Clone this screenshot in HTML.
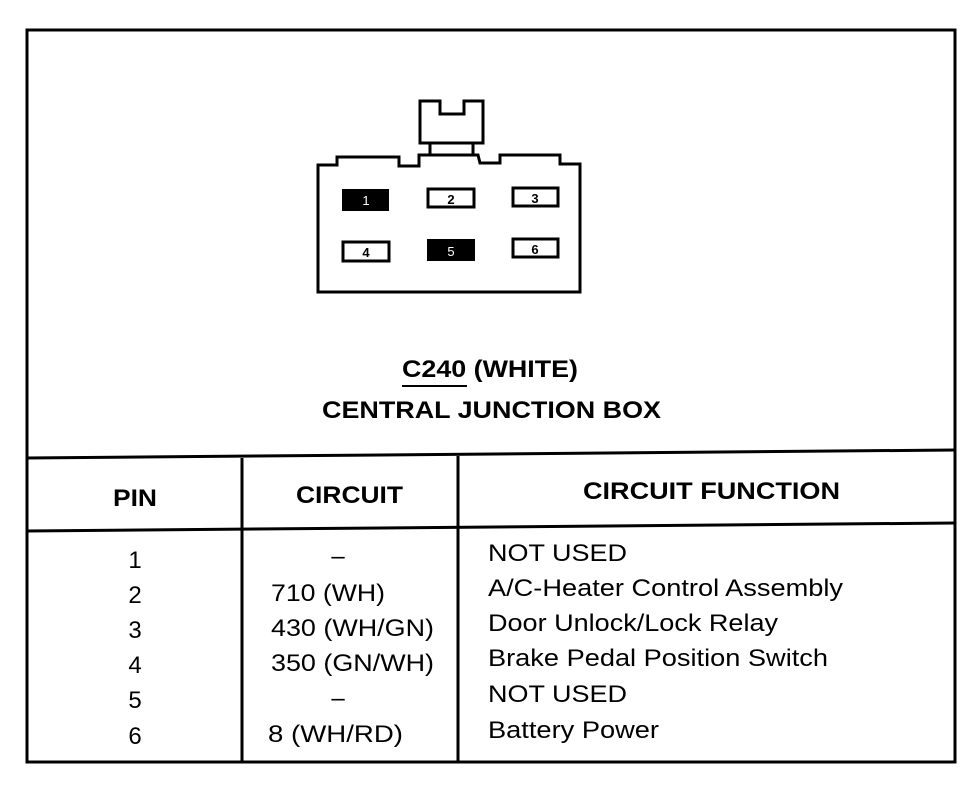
<!DOCTYPE html>
<html><head><style>
body{margin:0;background:#fff;width:976px;height:800px;overflow:hidden}
svg{display:block}
text{font-family:"Liberation Sans",Arial,sans-serif;fill:#000}
</style></head><body>
<svg width="976" height="800" viewBox="0 0 976 800">
<g fill="none" stroke="#000" stroke-width="3">
<rect x="27" y="30" width="928" height="732"/>
<line x1="27" y1="458" x2="955" y2="450"/>
<line x1="27" y1="531" x2="955" y2="523"/>
<line x1="242" y1="458" x2="242" y2="762"/>
<line x1="458" y1="456" x2="458" y2="762"/>
<path d="M318,165 L337,165 L337,157 L399,157 L399,166 L419,166 L419,155 L478,155 L480,163 L500,163 L500,155 L560,155 L560,164 L580,164 L580,292 L318,292 Z"/>
<path d="M420,143 L420,101 L440,101 L440,114 L464,114 L464,101 L483,101 L483,143 Z"/>
<line x1="430" y1="143" x2="430" y2="155"/>
<line x1="473" y1="143" x2="473" y2="155"/>
<rect x="428" y="189" width="46" height="18"/>
<rect x="513" y="188" width="45" height="18"/>
<rect x="343" y="242" width="46" height="19"/>
<rect x="513" y="239" width="45" height="18"/>
</g>
<rect x="342" y="189" width="47" height="22" fill="#000"/>
<rect x="427" y="239" width="48" height="22" fill="#000"/>
<g font-size="13" text-anchor="middle" font-weight="bold">
<text x="366" y="205" style="fill:#fff" font-weight="normal">1</text>
<text x="451" y="204">2</text>
<text x="535" y="203">3</text>
<text x="366" y="257">4</text>
<text x="451" y="256" style="fill:#fff" font-weight="normal">5</text>
<text x="535" y="254">6</text>
</g>
<g font-weight="bold" font-size="24" lengthAdjust="spacingAndGlyphs">
<text x="402" y="377" textLength="176" lengthAdjust="spacingAndGlyphs">C240 (WHITE)</text>
<text x="322" y="418" textLength="339" lengthAdjust="spacingAndGlyphs">CENTRAL JUNCTION BOX</text>
<text x="113" y="506" textLength="44" lengthAdjust="spacingAndGlyphs">PIN</text>
<text x="296" y="503" textLength="107" lengthAdjust="spacingAndGlyphs">CIRCUIT</text>
<text x="583" y="499" textLength="257" lengthAdjust="spacingAndGlyphs">CIRCUIT FUNCTION</text>
</g>
<line x1="402" y1="386" x2="467" y2="386" stroke="#000" stroke-width="2"/>
<g font-size="24" text-anchor="middle">
<text x="135" y="568">1</text><text x="135" y="603">2</text><text x="135" y="638">3</text>
<text x="135" y="673">4</text><text x="135" y="708">5</text><text x="135" y="744">6</text>
<text x="338" y="564">–</text>
<text x="338" y="706">–</text>
</g>
<g font-size="24">
<text x="271" y="601" textLength="114" lengthAdjust="spacingAndGlyphs">710 (WH)</text>
<text x="271" y="636" textLength="163" lengthAdjust="spacingAndGlyphs">430 (WH/GN)</text>
<text x="271" y="671" textLength="163" lengthAdjust="spacingAndGlyphs">350 (GN/WH)</text>
<text x="268" y="742" textLength="135" lengthAdjust="spacingAndGlyphs">8 (WH/RD)</text>
<text x="488" y="561" textLength="139" lengthAdjust="spacingAndGlyphs">NOT USED</text>
<text x="488" y="596" textLength="355" lengthAdjust="spacingAndGlyphs">A/C-Heater Control Assembly</text>
<text x="488" y="631" textLength="290" lengthAdjust="spacingAndGlyphs">Door Unlock/Lock Relay</text>
<text x="488" y="666" textLength="340" lengthAdjust="spacingAndGlyphs">Brake Pedal Position Switch</text>
<text x="488" y="702" textLength="139" lengthAdjust="spacingAndGlyphs">NOT USED</text>
<text x="488" y="738" textLength="171" lengthAdjust="spacingAndGlyphs">Battery Power</text>
</g>
</svg>
</body></html>
